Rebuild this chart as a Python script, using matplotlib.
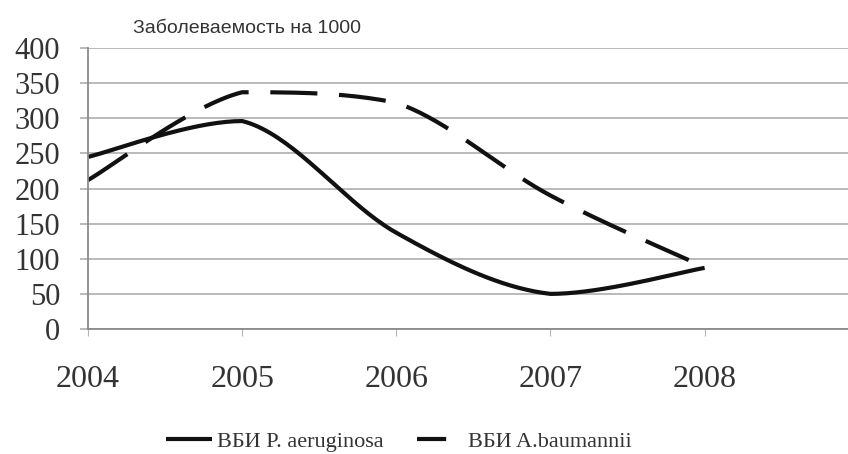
import numpy as np
import matplotlib
matplotlib.use('Agg')
import matplotlib.pyplot as plt
from matplotlib.lines import Line2D

# data
years = [2004, 2005, 2006, 2007, 2008]
p_aeruginosa = [245, 296, 137, 50, 87]
a_baumannii = [212, 337, 322, 190, 88]
yticks = [0, 50, 100, 150, 200, 250, 300, 350, 400]


def smooth(x, y, n=40):
    # smoothed line like Excel: Bezier through the points,
    # control points kept between the neighbouring values (no overshoot)
    x = np.asarray(x, float)
    y = np.asarray(y, float)
    px = np.concatenate([[x[0]], x, [x[-1]]])
    py = np.concatenate([[y[0]], y, [y[-1]]])
    xs, ys = [], []
    t = np.linspace(0, 1, n)
    for i in range(1, len(px) - 2):
        x0, y0, x3, y3 = px[i], py[i], px[i + 1], py[i + 1]
        x1 = x0 + (px[i + 1] - px[i - 1]) / 6
        y1 = y0 + (py[i + 1] - py[i - 1]) / 6
        x2 = x3 - (px[i + 2] - px[i]) / 6
        y2 = y3 - (py[i + 2] - py[i]) / 6
        lo, hi = min(y0, y3), max(y0, y3)
        y1 = min(max(y1, lo), hi)
        y2 = min(max(y2, lo), hi)
        a, b, c, d = (1 - t) ** 3, 3 * (1 - t) ** 2 * t, 3 * (1 - t) * t ** 2, t ** 3
        xs.extend(a * x0 + b * x1 + c * x2 + d * x3)
        ys.extend(a * y0 + b * y1 + c * y2 + d * y3)
    return xs, ys


fig = plt.figure(figsize=(8.48, 4.54), dpi=100)
ax = fig.add_axes([0.1038, 0.2753, 0.8962, 0.619])

sx, sy = smooth(years, p_aeruginosa)
ax.plot(sx, sy, color='#111111', lw=3, solid_capstyle='butt')
dx, dy = smooth(years, a_baumannii)
ax.plot(dx, dy, color='#111111', lw=3, dashes=(11.3, 5.2),
        dash_capstyle='butt')

ax.set_xlim(2004, 2008.93)
ax.set_ylim(0, 400)
ax.set_yticks(yticks)
ax.set_xticks(years)
ax.set_xticklabels([str(y) for y in years])
ax.grid(axis='y', color='#b4b4b4', lw=1.3)
ax.set_axisbelow(True)
for s in ['top', 'right']:
    ax.spines[s].set_visible(False)
for s in ['left', 'bottom']:
    ax.spines[s].set_color('#8a8a8a')
    ax.spines[s].set_linewidth(1.3)
ax.tick_params(axis='y', length=6, width=1.3, color='#b4b4b4', pad=14,
               labelsize=22, labelcolor='#333333')
ax.tick_params(axis='x', length=5, width=0.8, color='#b4b4b4', pad=21,
               labelsize=23, labelcolor='#333333')
for lab in ax.get_xticklabels() + ax.get_yticklabels():
    lab.set_family('Liberation Serif')

fig.text(0.157, 0.938, 'Заболеваемость на 1000', family='Liberation Sans',
         fontsize=14, color='#333333', va='center')

handles = [Line2D([], [], color='#111111', lw=3, solid_capstyle='butt'),
           Line2D([], [], color='#111111', lw=3, dashes=(7, 6),
                  dash_capstyle='butt')]
labels = ['ВБИ P. aeruginosa', 'ВБИ A.baumannii']
leg = fig.legend(handles, labels, loc='center', bbox_to_anchor=(0.47, 0.028),
                 ncol=2, frameon=False,
                 prop={'family': 'Liberation Serif', 'size': 16},
                 handlelength=2.1, handletextpad=0.2, columnspacing=1.5)
for t in leg.get_texts():
    t.set_color('#333333')

fig.savefig('out.png', dpi=100)
